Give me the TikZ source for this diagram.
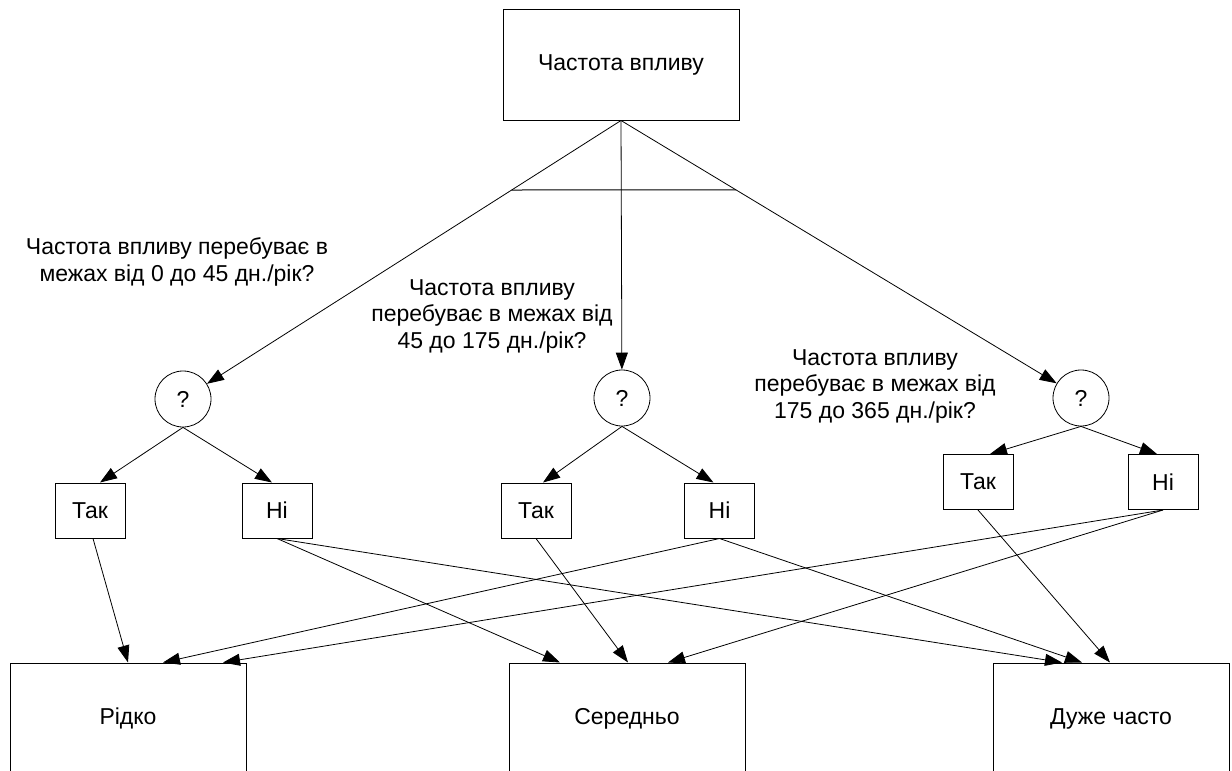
\documentclass[tikz,border=0pt]{standalone}
\usepackage{fontspec}
\setmainfont{Liberation Sans}
\usetikzlibrary{arrows.meta,calc}
\begin{document}
\begin{tikzpicture}[x=1pt,y=-1pt,
  every node/.style={font=\fontsize{23}{26.5}\selectfont},
  bigbox/.style={draw,line width=1pt,minimum width=236pt,minimum height=111pt,inner sep=0pt},
  smallbox/.style={draw,line width=1pt,minimum width=70pt,minimum height=55pt,inner sep=0pt},
  qcircle/.style={draw,circle,line width=0.8pt,minimum size=56pt,inner sep=0pt},
  qtext/.style={align=center,inner sep=0pt},
  arr/.style={line width=0.8pt,-{Triangle[length=17pt,width=12pt]}},
  bar/.style={line width=1pt}]
\useasboundingbox (0,0) rectangle (1232,771);
\clip (0,0) rectangle (1232,771);
\node[bigbox] (top) at (621,64.5) {Частота впливу};
\node[qcircle] (q1) at (183,399) {?};
\node[qcircle] (q2) at (622,398) {?};
\node[qcircle] (q3) at (1081,398) {?};
\node[smallbox] (tak1) at (90,510.5) {Так};
\node[smallbox] (ni1) at (277,510.5) {Ні};
\node[smallbox] (tak2) at (536,510.5) {Так};
\node[smallbox] (ni2) at (719.5,510.5) {Ні};
\node[smallbox] (tak3) at (978,482) {Так};
\node[smallbox] (ni3) at (1163,482) {Ні};
\node[bigbox] (ridko) at (128,718.5) {Рідко};
\node[bigbox] (sered) at (627,718.5) {Середньо};
\node[bigbox] (duzhe) at (1111,718.5) {Дуже часто};
\node[qtext] (t1) at (177,262) {Частота впливу перебуває в\\межах від 0 до 45 дн./рік?};
\node[qtext] (t2) at (492,316) {Частота впливу\\перебуває в межах від\\45 до 175 дн./рік?};
\node[qtext] (t3) at (875,386) {Частота впливу\\перебуває в межах від\\175 до 365 дн./рік?};
% top connectors
\draw[arr] (top.south) -- coordinate[pos=0.264] (bl) (q1);
\draw[arr] (top.south) -- (q2);
\draw[arr] (top.south) -- coordinate[pos=0.264] (br) (q3);
\draw[bar] (bl) -- (br);
% circles to answers
\draw[arr] (q1.south) -- ([xshift=10pt]tak1.north);
\draw[arr] (q1.south) -- ([xshift=-5pt]ni1.north);
\draw[arr] (q2.south) -- ([xshift=7pt]tak2.north);
\draw[arr] (q2.south) -- ([xshift=-6pt]ni2.north);
\draw[arr] (q3.south) -- ([xshift=12pt]tak3.north);
\draw[arr] (q3.south) -- ([xshift=-6pt]ni3.north);
% answers to results
\draw[arr] ([xshift=3pt]tak1.south) -- (ridko.north);
\draw[arr] (ni1.south) -- ([xshift=-67pt]sered.north);
\draw[arr] (ni1.south) -- ([xshift=-49pt]duzhe.north);
\draw[arr] (tak2.south) -- ([xshift=1pt]sered.north);
\draw[arr] (ni2.south) -- ([xshift=35pt]ridko.north);
\draw[arr] (ni2.south) -- ([xshift=-29pt]duzhe.north);
\draw[arr] (tak3.south) -- ([xshift=-1pt]duzhe.north);
\draw[arr] (ni3.south) -- ([xshift=95pt]ridko.north);
\draw[arr] (ni3.south) -- ([xshift=41pt]sered.north);
\end{tikzpicture}
\end{document}
